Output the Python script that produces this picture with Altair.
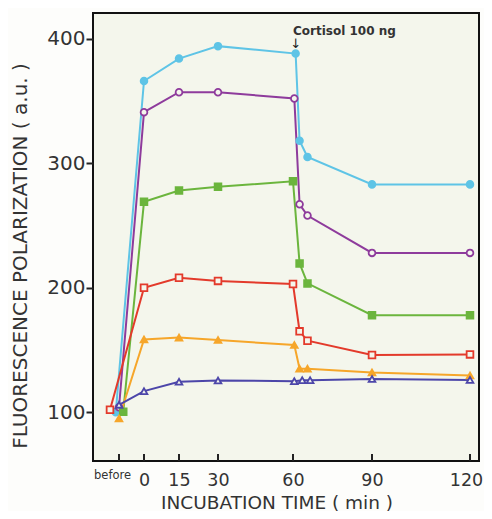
import altair as alt
import pandas as pd

# ---- data ----
SERIES = ["cyan", "purple", "green", "red", "orange", "blue"]
COLORS = ["#5ec4e6", "#8e3b9c", "#6bb53d", "#e33a2b", "#f6a62a", "#4c46a9"]
FILLS = ["#5ec4e6", "#f4f6ec", "#6bb53d", "#f4f6ec", "#f6a62a", "#f4f6ec"]
SHAPES = ["circle", "circle", "square", "square", "triangle-up", "triangle-up"]
SIZES = [45, 45, 60, 60, 60, 60]

# incubation time (min); "before" is drawn at -10
T_CYAN = [-11.3, 0, 15, 30, 61, 62.5, 65.5, 90, 120]
T_PURPLE = [-10, 0, 15, 30, 60.5, 62.5, 65.5, 90, 120]
T_GREEN = [-8.3, 0, 15, 30, 60, 62.5, 65.5, 90, 120]
T_RED = [-13.6, 0, 15, 30, 60, 62.5, 65.5, 90, 120]
T_ORANGE = [-10, 0, 15, 30, 60.5, 62.5, 65.5, 90, 120]
T_BLUE = [-10, 0, 15, 30, 60.5, 63.5, 66.5, 90, 120]

V_CYAN = [100, 366, 384, 394, 388, 318, 305, 283, 283]
V_PURPLE = [104, 341, 357, 357, 352, 267, 258, 228, 228]
V_GREEN = [100.5, 269, 278, 281, 285.5, 219.5, 203.5, 178, 178]
V_RED = [102, 200, 208, 205.5, 203, 165, 157.5, 146, 146.5]
V_ORANGE = [95, 158.5, 160, 158, 154, 135, 135, 132, 129.5]
V_BLUE = [106, 117, 124.5, 125.5, 125, 125.8, 125.8, 126.7, 126]

X_TICKS = [-10, 0, 15, 30, 60, 90, 120]
Y_TICKS = [100, 200, 300, 400]

times = [T_CYAN, T_PURPLE, T_GREEN, T_RED, T_ORANGE, T_BLUE]
values = [V_CYAN, V_PURPLE, V_GREEN, V_RED, V_ORANGE, V_BLUE]
rows = []
for s, ts, vs in zip(SERIES, times, values):
    for i, (t, v) in enumerate(zip(ts, vs)):
        rows.append({"series": s, "time": t, "value": v, "order": i})
df = pd.DataFrame(rows)

W, H = 386, 448
FONT = "DejaVu Sans"
TXT = "#333333"

x_scale = alt.Scale(
    domain=[-20.4, -10, 0, 15, 30, 60, 90, 120, 122.75],
    range=[0, 26, 51, 86, 125, 200, 279, 377, 386],
    nice=False, zero=False,
)
y_scale = alt.Scale(domain=[60.9, 420.6], nice=False, zero=False)

x_axis = alt.Axis(
    values=X_TICKS,
    labelExpr="datum.value == -10 ? 'before' : datum.label",
    labelFontSize={"condition": {"test": "datum.value == -10", "value": 11.5}, "value": 17.5},
    labelOffset={"condition": [
        {"test": "datum.value == -10", "value": -7},
        {"test": "datum.value == 120", "value": -4},
    ], "value": 0},
    labelPadding={"condition": {"test": "datum.value == -10", "value": 8}, "value": 10},
    tickSize=0,
    ticks=False,
    domain=False,
    grid=False,
    labelFont=FONT,
    labelColor=TXT,
    title="INCUBATION  TIME  ( min )",
    titleFont=FONT,
    titleFontSize=18.5,
    titleFontWeight="normal",
    titleColor=TXT,
    titleX=183.5,
    titleY=47,
    titleAlign="center",
    titleBaseline="alphabetic",
)
y_axis = alt.Axis(
    values=Y_TICKS,
    tickSize=7,
    tickWidth=2,
    tickColor="#222222",
    domain=False,
    grid=False,
    labelFont=FONT,
    labelFontSize=20,
    labelColor=TXT,
    labelPadding=1,
    title="FLUORESCENCE  POLARIZATION  ( a.u. )",
    titleFont=FONT,
    titleFontSize=20,
    titleFontWeight="normal",
    titleColor=TXT,
    titleX=-67,
    titleY=242.5,
    titleAlign="center",
    titleBaseline="alphabetic",
    titleAngle=270,
)

base = alt.Chart(df)

lines = base.mark_line(strokeWidth=2).encode(
    x=alt.X("time:Q", scale=x_scale, axis=x_axis),
    y=alt.Y("value:Q", scale=y_scale, axis=y_axis),
    color=alt.Color("series:N", scale=alt.Scale(domain=SERIES, range=COLORS), legend=None),
    order="order:Q",
    detail="series:N",
)

points = base.mark_point(filled=True, strokeWidth=1.8, opacity=1).encode(
    x=alt.X("time:Q", scale=x_scale),
    y=alt.Y("value:Q", scale=y_scale),
    fill=alt.Fill("series:N", scale=alt.Scale(domain=SERIES, range=FILLS), legend=None),
    stroke=alt.Stroke("series:N", scale=alt.Scale(domain=SERIES, range=COLORS), legend=None),
    shape=alt.Shape("series:N", scale=alt.Scale(domain=SERIES, range=SHAPES), legend=None),
    size=alt.Size("series:N", scale=alt.Scale(domain=SERIES, range=SIZES), legend=None),
)

# inward ticks on the bottom axis
tick_df = pd.DataFrame({"t": X_TICKS})
bottom_ticks = alt.Chart(tick_df).mark_rule(color="#222222", strokeWidth=2).encode(
    x=alt.X("t:Q", scale=x_scale),
    y=alt.value(H - 7),
    y2=alt.value(H),
)

note = alt.Chart(pd.DataFrame({"a": [0]})).mark_text(
    text="Cortisol 100 ng", align="left", baseline="alphabetic",
    font=FONT, fontSize=12, fontWeight="bold", color=TXT,
).encode(x=alt.datum(60, scale=x_scale), y=alt.datum(402.8, scale=y_scale))

arrow = alt.Chart(pd.DataFrame({"a": [0]})).mark_text(
    text="↓", align="center", baseline="top",
    font=FONT, fontSize=13, color="#222222",
).encode(x=alt.datum(61, scale=x_scale), y=alt.datum(400.3, scale=y_scale))

chart = (
    alt.layer(lines, points, bottom_ticks, note, arrow)
    .properties(
        width=W, height=H,
        padding={"left": 85, "top": 5, "right": 5, "bottom": 50},
        autosize=alt.AutoSizeParams(type="none"),
        background="#fdfdfb",
    )
    .configure_view(stroke="#111111", strokeWidth=2, fill="#f4f6ec")
)

chart.save("out.html", embed_options={"renderer": "svg", "actions": False})
